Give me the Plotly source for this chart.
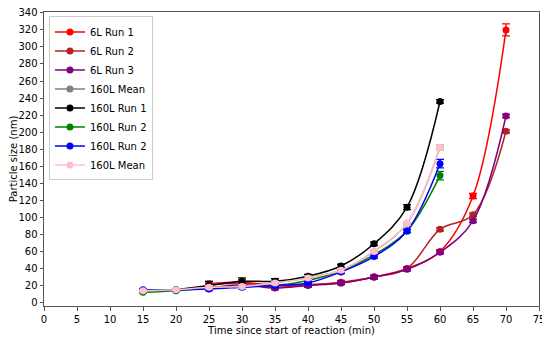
import plotly.graph_objects as go

time_6L = [25, 30, 35, 40, 45, 50, 55, 60, 65, 70]
time_160L = [15, 20, 25, 30, 35, 40, 45, 50, 55, 60]

run1_6L = [22, 24, 20, 21, 24, 30, 40, 60, 125, 320]
run1_6L_err = [3, 3, 2, 2, 2, 2, 2, 2, 3, 7]
run2_6L = [21, 23, 18, 21, 23, 30, 40, 86, 103, 201]
run2_6L_err = [2, 2, 2, 2, 2, 2, 2, 2, 2, 2]
run3_6L = [17, 21, 17, 20, 23, 30, 39, 59, 96, 219]
run3_6L_err = [2, 2, 2, 2, 2, 2, 2, 2, 2, 2]

mean_gray_160L = [14, 15, 18, 19, 23, 29, 38, 60, 93, 182]
mean_gray_160L_err = [1, 1, 2, 2, 2, 2, 2, 2, 2, 3]
run1_160L = [None, 15, 20, 25, 25, 31, 43, 69, 112, 236]
run1_160L_err = [0, 1, 5, 4, 3, 2, 2, 2, 3, 2]
run2g_160L = [12, 14, 17, 19, 20, 26, 37, 56, 84, 149]
run2g_160L_err = [1, 1, 2, 2, 2, 2, 2, 2, 2, 5]
run2b_160L = [15, 15, 16, 18, 20, 23, 36, 54, 84, 163]
run2b_160L_err = [1, 1, 2, 2, 2, 2, 2, 2, 2, 5]
mean_pink_160L = [14, 15, 18, 19, 23, 29, 38, 60, 93, 182]
mean_pink_160L_err = [1, 1, 2, 2, 2, 2, 2, 2, 2, 3]

series = [
    ("6L Run 1", time_6L, run1_6L, run1_6L_err, "#ff0000"),
    ("6L Run 2", time_6L, run2_6L, run2_6L_err, "#b22222"),
    ("6L Run 3", time_6L, run3_6L, run3_6L_err, "#800080"),
    ("160L Mean", time_160L, mean_gray_160L, mean_gray_160L_err, "#808080"),
    ("160L Run 1", time_160L, run1_160L, run1_160L_err, "#000000"),
    ("160L Run 2", time_160L, run2g_160L, run2g_160L_err, "#008000"),
    ("160L Run 2", time_160L, run2b_160L, run2b_160L_err, "#0000ff"),
    ("160L Mean", time_160L, mean_pink_160L, mean_pink_160L_err, "#ffc0cb"),
]

fig = go.Figure()
for name, xs, ys, errs, color in series:
    fig.add_trace(go.Scatter(
        x=xs, y=ys, name=name, mode="lines+markers",
        line=dict(color=color, width=1.5, shape="spline", smoothing=1),
        marker=dict(color=color, size=7),
        error_y=dict(type="data", array=errs, color=color, thickness=1.3, width=4),
        connectgaps=True,
    ))

axis_common = dict(
    showgrid=False, zeroline=False, showline=True, linecolor="#555555", linewidth=1,
    mirror=True, ticks="outside", ticklen=3.5, tickwidth=1, tickcolor="#555555",
    tickfont=dict(family="DejaVu Sans", size=10, color="black"),
    automargin=False, ticklabeloverflow="allow",
)

fig.update_layout(
    width=542, height=332,
    margin=dict(l=36, r=11, t=4, b=34),
    plot_bgcolor="white", paper_bgcolor="white",
    font=dict(family="DejaVu Sans", size=10, color="black"),
    xaxis=dict(range=[0, 75], tickmode="linear", tick0=0, dtick=5,
               title=dict(text="Time since start of reaction (min)", font=dict(size=10), standoff=2),
               **axis_common),
    yaxis=dict(range=[-4, 341], tickmode="linear", tick0=0, dtick=20,
               title=dict(text="Particle size (nm)", font=dict(size=10), standoff=4),
               **axis_common),
    legend=dict(x=0.01, y=0.985, xanchor="left", yanchor="top",
                bgcolor="rgba(255,255,255,0.8)", bordercolor="#cccccc", borderwidth=1,
                font=dict(size=10), tracegroupgap=0, itemwidth=30),
    showlegend=True,
)

fig.write_html("out.html")
